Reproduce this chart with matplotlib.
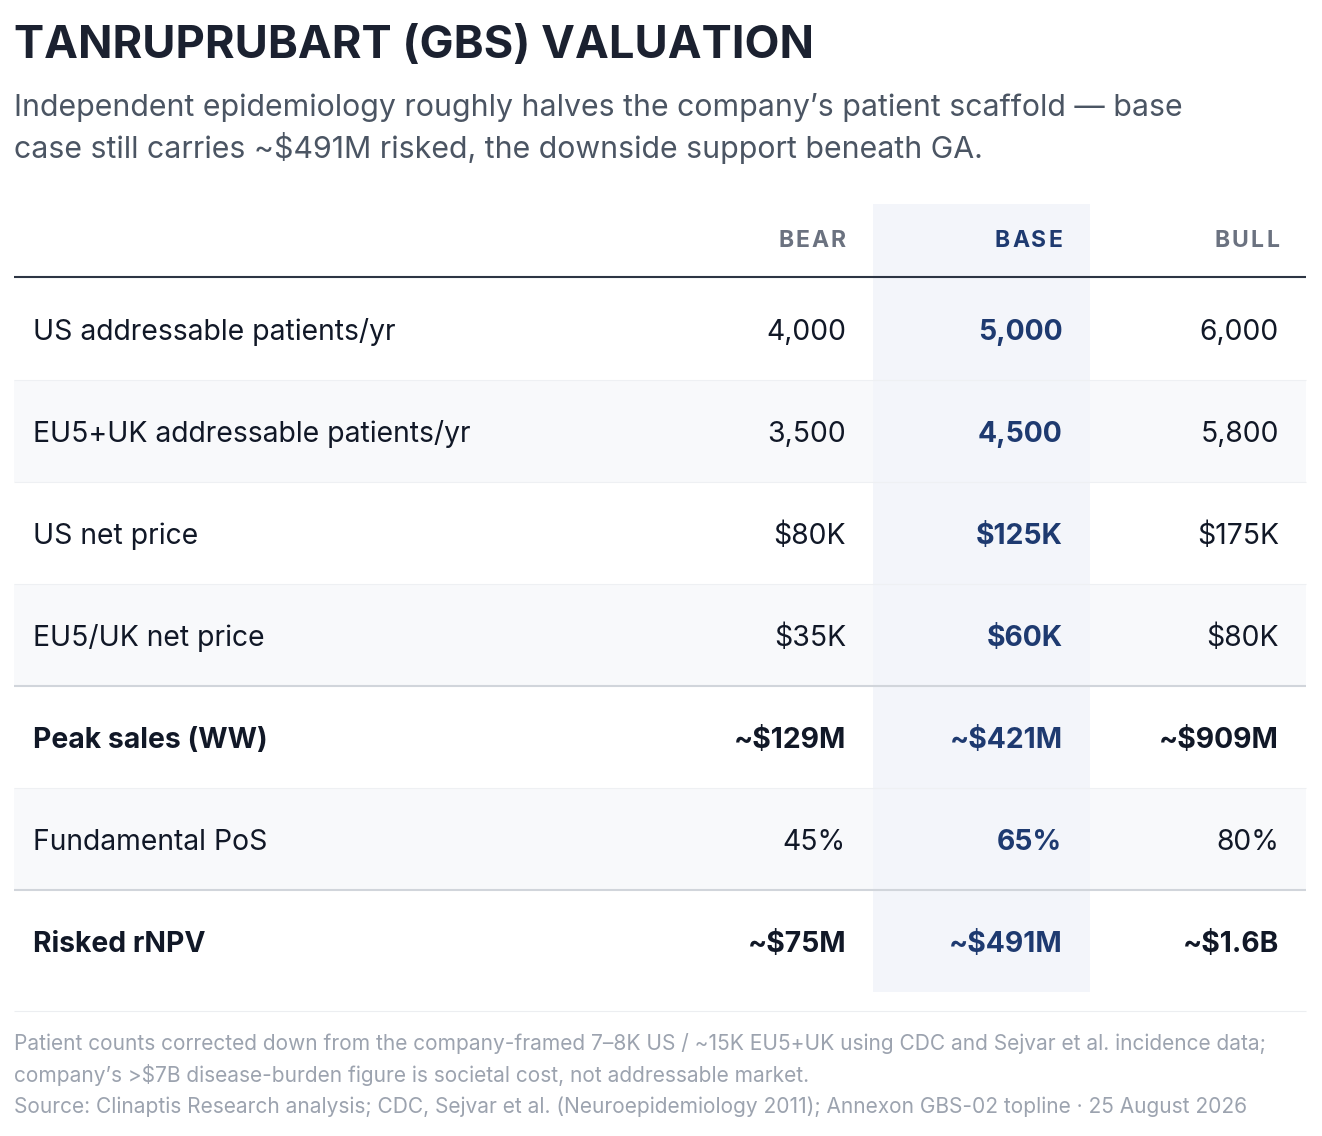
import matplotlib
matplotlib.use("Agg")
import matplotlib.pyplot as plt
from matplotlib.patches import Rectangle

plt.rcParams['font.family'] = ['Inter', 'DejaVu Sans']

title = "TANRUPRUBART (GBS) VALUATION"
subtitle = ["Independent epidemiology roughly halves the company\u2019s patient scaffold \u2014 base",
            "case still carries ~$491M risked, the downside support beneath GA."]

scenarios = ["BEAR", "BASE", "BULL"]
row_labels = ["US addressable patients/yr", "EU5+UK addressable patients/yr", "US net price",
              "EU5/UK net price", "Peak sales (WW)", "Fundamental PoS", "Risked rNPV"]
bear = ["4,000", "3,500", "$80K", "$35K", "~$129M", "45%", "~$75M"]
base = ["5,000", "4,500", "$125K", "$60K", "~$421M", "65%", "~$491M"]
bull = ["6,000", "5,800", "$175K", "$80K", "~$909M", "80%", "~$1.6B"]
bold_rows = [4, 6]
group_breaks = [4, 6]   # thicker rule above these rows

notes = ["Patient counts corrected down from the company-framed 7\u20138K US / ~15K EU5+UK using CDC and Sejvar et al. incidence data;",
         "company\u2019s >$7B disease-burden figure is societal cost, not addressable market.",
         "Source: Clinaptis Research analysis; CDC, Sejvar et al. (Neuroepidemiology 2011); Annexon GBS-02 topline \u00b7 25 August 2026"]

W, H = 1322, 1136
fig = plt.figure(figsize=(W / 100, H / 100), dpi=100)
ax = fig.add_axes([0, 0, 1, 1])
ax.set_xlim(0, W)
ax.set_ylim(H, 0)
ax.axis('off')
renderer = fig.canvas.get_renderer()

DARK = '#111827'
NAVY = '#1e3a70'
GREY = '#6b7280'

def px(p):
    return p * 0.72

def spaced_text(x_right, y, s, spacing, **kw):
    """Right-aligned text with extra letter spacing, drawn char by char from the right."""
    x = x_right
    for ch in reversed(s):
        t = ax.text(x, y, ch, ha='right', va='baseline', **kw)
        w = t.get_window_extent(renderer).width
        x -= w + spacing

# title block
ax.text(14, 58, title, fontsize=px(45.3), fontweight='bold', color='#1b2130', va='baseline')
for i, line in enumerate(subtitle):
    ax.text(14, 116 + 42 * i, line, fontsize=px(30.3), color='#4b5563', va='baseline')

# table geometry
left, right = 14, 1306
col_w = 216.5
col_right = [right - col_w * (2 - j) for j in range(3)]
row_top0, row_h = 278, 102
n = len(row_labels)
table_bottom = row_top0 + row_h * n

# row shading
for i in range(n):
    top = row_top0 + row_h * i
    if i % 2 == 1:
        ax.add_patch(Rectangle((left, top), right - left, row_h, color='#f8f9fb', lw=0, zorder=0))

# base column highlight
ax.add_patch(Rectangle((col_right[1] - col_w, 204), col_w, table_bottom - 204,
                       color='#f3f5fa', lw=0, zorder=0.5))

# header
for j, s in enumerate(scenarios):
    spaced_text(col_right[j] - 27, 247, s, 2.2, fontsize=px(23), fontweight='bold',
                color=NAVY if j == 1 else GREY, zorder=3)
ax.plot([left, right], [277, 277], color='#2d3544', lw=1.5, zorder=3, solid_capstyle='butt')

# row rules
for i in range(1, n):
    y = row_top0 + row_h * i
    if i in group_breaks:
        ax.plot([left, right], [y, y], color='#d1d5db', lw=1.5, zorder=2, solid_capstyle='butt')
    else:
        ax.plot([left, right], [y, y], color='#eef0f3', lw=0.8, zorder=2, solid_capstyle='butt')
ax.plot([left, right], [1011, 1011], color='#eceef1', lw=0.8, zorder=2, solid_capstyle='butt')

# cells
for i, lab in enumerate(row_labels):
    yb = row_top0 + row_h * i + row_h / 2 + 11
    w = 'bold' if i in bold_rows else 'normal'
    ax.text(33, yb, lab, fontsize=px(28.3), fontweight=w, color=DARK, va='baseline', zorder=3)
    for j, vals in enumerate([bear, base, bull]):
        ax.text(col_right[j] - 27, yb, vals[i], fontsize=px(28.3),
                fontweight='bold' if (j == 1 or i in bold_rows) else 'normal',
                color=NAVY if j == 1 else DARK, ha='right', va='baseline', zorder=3)

# footnotes
for i, line in enumerate(notes):
    ax.text(14, 1050 + 31.5 * i, line, fontsize=px(20.9), color='#9ca3af', va='baseline')

fig.savefig("out.png", dpi=100, facecolor='white')
